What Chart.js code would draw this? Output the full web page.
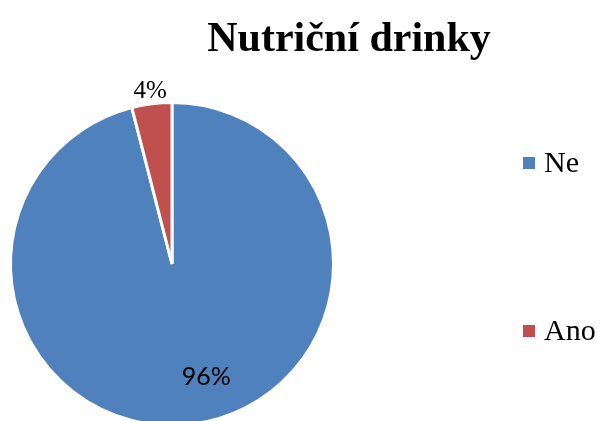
<!DOCTYPE html>
<html>
<head>
<meta charset="utf-8">
<title>Nutriční drinky</title>
<script src="https://cdn.jsdelivr.net/npm/chart.js@4.4.1/dist/chart.umd.min.js"></script>
<style>
  html, body { margin: 0; padding: 0; background: #fff; overflow: hidden; }
  #wrap { position: relative; width: 601px; height: 440px; }
</style>
</head>
<body>
<div id="wrap"><canvas id="pie" width="601" height="440"></canvas></div>
<script>
// categories and shares (%)
const categories = ['Ne', 'Ano'];
const shares = [96, 4];
const sliceColors = ['#4F81BD', '#C0504D'];
const chartTitle = 'Nutriční drinky';

// draws title, percentage labels and the legend on top of the pie
const decorations = {
  id: 'decorations',
  afterDatasetsDraw(chart, args, opts) {
    const ctx = chart.ctx;
    const arcs = chart.getDatasetMeta(0).data;
    ctx.save();

    // title
    ctx.fillStyle = '#000';
    ctx.font = 'bold 42px "Liberation Serif"';
    ctx.textAlign = 'center';
    ctx.textBaseline = 'alphabetic';
    ctx.fillText(chartTitle, 349, 51);

    // percentage labels
    arcs.forEach((arc, i) => {
      const p = arc.getProps(['x', 'y', 'startAngle', 'endAngle', 'outerRadius']);
      const mid = (p.startAngle + p.endAngle) / 2 + opts.angleShift[i];
      const r = p.outerRadius * opts.radial[i];
      ctx.font = opts.fonts[i];
      ctx.textBaseline = 'middle';
      ctx.fillText(shares[i] + '%', p.x + Math.cos(mid) * r, p.y + Math.sin(mid) * r);
    });

    // legend
    categories.forEach((name, i) => {
      const y = opts.legendY[i];
      ctx.fillStyle = sliceColors[i];
      ctx.fillRect(523, y - 6, 12, 12);
      ctx.fillStyle = '#000';
      ctx.font = '30px "Liberation Serif"';
      ctx.textAlign = 'left';
      ctx.textBaseline = 'middle';
      ctx.fillText(name, 544, y + 1);
    });
    ctx.restore();
  }
};

new Chart(document.getElementById('pie'), {
  type: 'pie',
  data: {
    labels: categories,
    datasets: [{
      data: shares,
      backgroundColor: sliceColors,
      borderColor: '#fff',
      borderWidth: 3
    }]
  },
  options: {
    responsive: false,
    animation: false,
    layout: { padding: { left: 9, top: 101, right: 266, bottom: 13 } },
    plugins: {
      legend: { display: false },
      title: { display: false },
      tooltip: { enabled: false },
      decorations: {
        angleShift: [-0.17, 0],
        radial: [0.73, 1.08],
        fonts: ['25px Lato', '25px "Liberation Serif"'],
        legendY: [163, 331]
      }
    }
  },
  plugins: [decorations]
});
</script>
</body>
</html>
